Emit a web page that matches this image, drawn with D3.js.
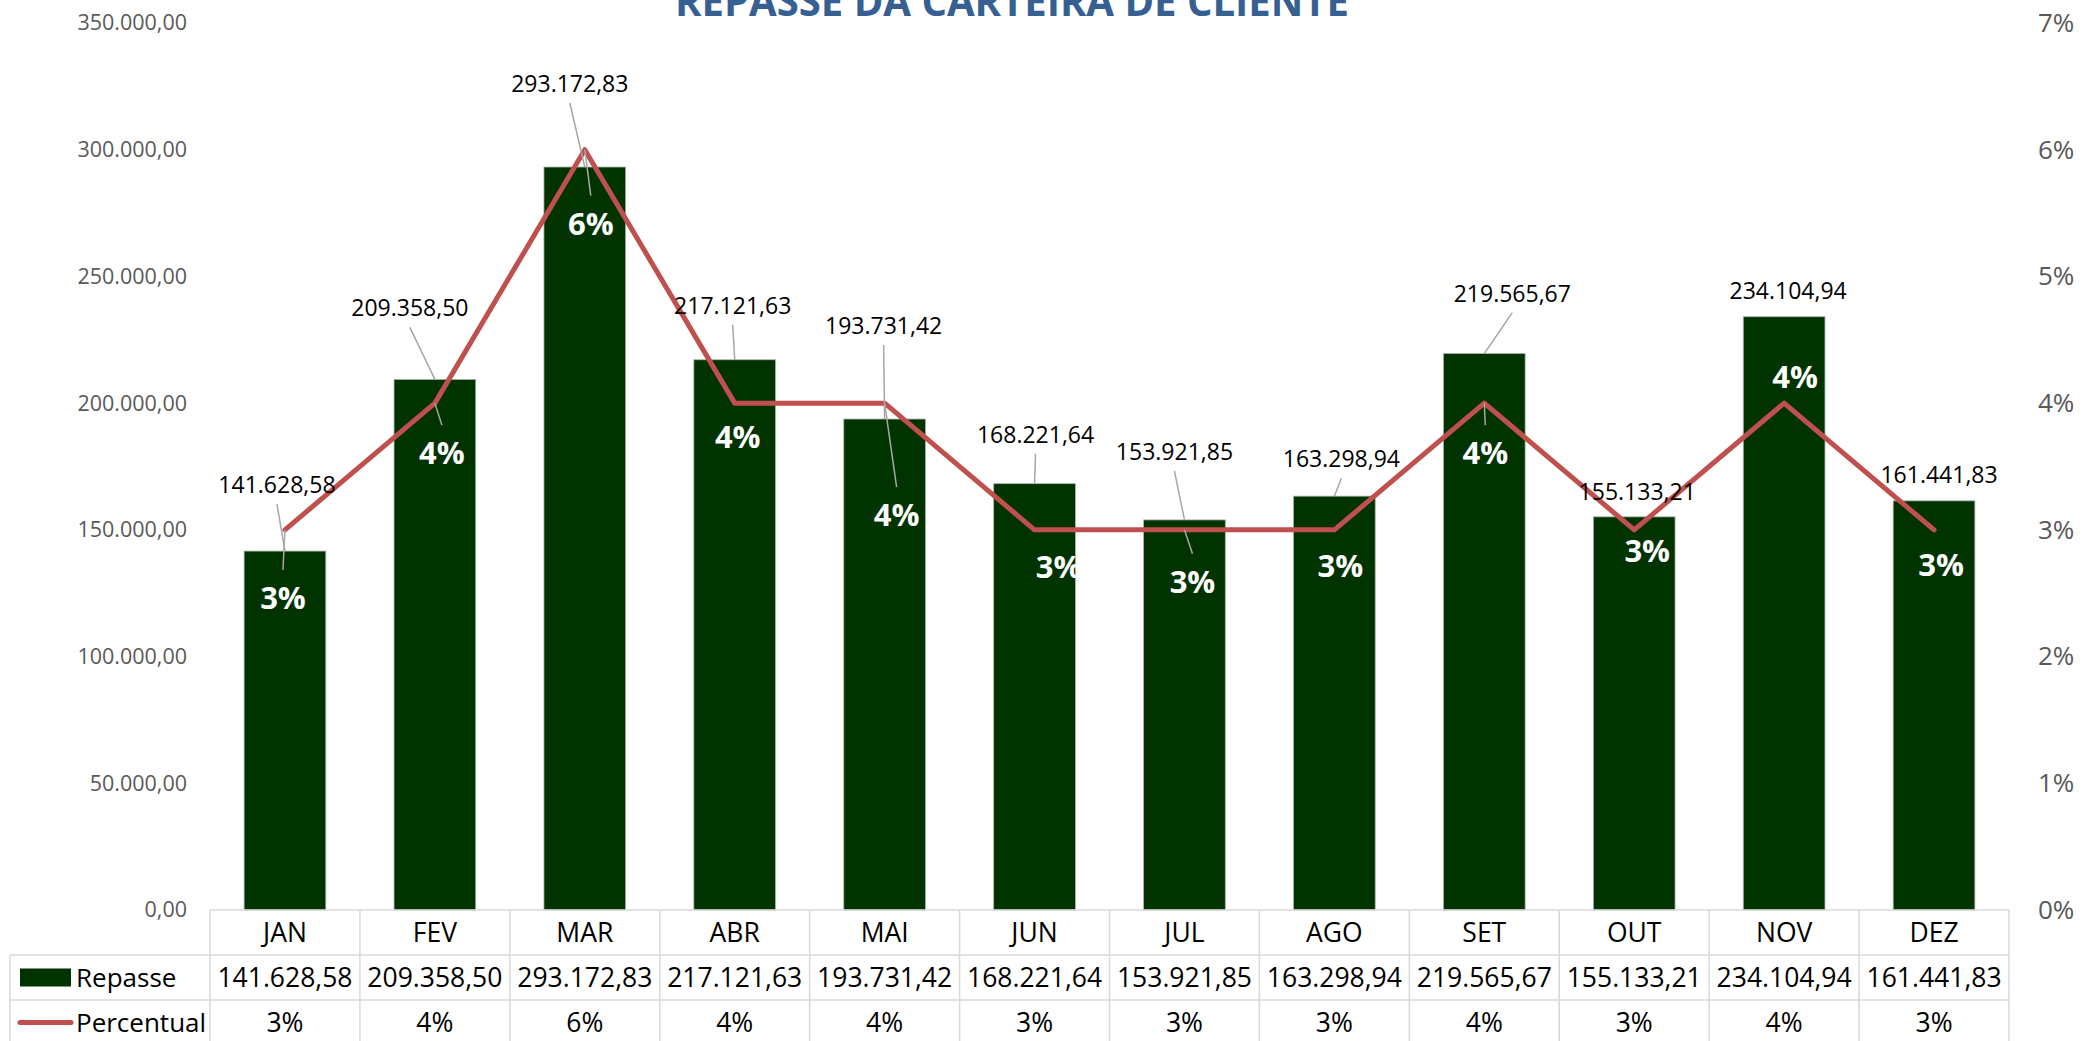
<!DOCTYPE html>
<html>
<head>
<meta charset="utf-8">
<script src="https://cdnjs.cloudflare.com/ajax/libs/d3/7.8.5/d3.min.js"></script>
<style>
  html, body { margin: 0; padding: 0; background: #fff; }
  svg { display: block; font-family: 'Open Sans', sans-serif; }
</style>
</head>
<body>
<script>
const width = 2083;
const height = 1041;

// data
const months = ['JAN', 'FEV', 'MAR', 'ABR', 'MAI', 'JUN', 'JUL', 'AGO', 'SET', 'OUT', 'NOV', 'DEZ'];
const repasse = [141628.58, 209358.50, 293172.83, 217121.63, 193731.42, 168221.64,
                 153921.85, 163298.94, 219565.67, 155133.21, 234104.94, 161441.83];
const percentual = [3, 4, 6, 4, 4, 3, 3, 3, 4, 3, 4, 3];
const leftTicks = [0, 50000, 100000, 150000, 200000, 250000, 300000, 350000];
const rightTicks = [0, 1, 2, 3, 4, 5, 6, 7];

// where Excel dragged the labels (pixel offsets from their anchor)
const valueLabelOffsets = [[-8, -66], [-25, -71], [-15, -83], [-2, -54], [-1, -93], [1, -49],
                           [-10, -68], [7, -37], [28, -60], [3, -25], [4, -26], [5, -26]];
const pctLabelOffsets = [[-2, 68], [7, 50], [6, 74], [3, 34], [12, 112], [24, 37],
                         [8, 52], [6, 36], [1, 50], [13, 21], [11, -26], [7, 35]];

const ptBR = d3.formatLocale({ decimal: ',', thousands: '.', grouping: [3], currency: ['R$', ''] });
const fmt = ptBR.format(',.2f');

const svg = d3.select('body')
              .append('svg')
              .attr('width', width)
              .attr('height', height);

const x = d3.scaleBand().domain(months).range([210, 2009]).padding(0);
const y = d3.scaleLinear().domain([0, 350000]).range([910, 23]);
const y2 = d3.scaleLinear().domain([0, 7]).range([910, 23]);
const barW = x.bandwidth() * 0.545;
const cx = m => x(m) + x.bandwidth() / 2;

// title (cut off at the top like the original)
svg.append('text')
   .attr('x', 1012)
   .attr('y', 16)
   .attr('text-anchor', 'middle')
   .attr('font-size', 42)
   .attr('font-weight', 700)
   .attr('fill', '#376092')
   .attr('textLength', 674)
   .attr('lengthAdjust', 'spacingAndGlyphs')
   .text('REPASSE DA CARTEIRA DE CLIENTE');

// axes
const leftAxis = svg.append('g')
   .attr('transform', 'translate(187,0)')
   .call(d3.axisLeft(y).tickValues(leftTicks).tickSize(0).tickPadding(0).tickFormat(fmt));
leftAxis.select('.domain').remove();
leftAxis.attr('font-family', null).attr('font-size', null);
leftAxis.selectAll('text').attr('font-size', 21.5).attr('fill', '#595959');

const rightAxis = svg.append('g')
   .attr('transform', 'translate(2038,0)')
   .call(d3.axisRight(y2).tickValues(rightTicks).tickSize(0).tickPadding(0).tickFormat(d => d + '%'));
rightAxis.select('.domain').remove();
rightAxis.attr('font-family', null).attr('font-size', null);
rightAxis.selectAll('text').attr('font-size', 26).attr('fill', '#595959');

// bars
svg.append('g')
   .selectAll('rect')
   .data(months)
   .join('rect')
   .attr('x', m => cx(m) - barW / 2)
   .attr('y', (m, i) => y(repasse[i]))
   .attr('width', barW)
   .attr('height', (m, i) => y(0) - y(repasse[i]))
   .attr('fill', '#003300')
   .attr('stroke', '#a9b5a9')
   .attr('stroke-width', 0.8);

// line
const line = d3.line()
               .x(d => cx(d.m))
               .y(d => y2(d.p));
const linePts = months.map((m, i) => ({ m: m, p: percentual[i] }));
svg.append('path')
   .datum(linePts)
   .attr('d', line)
   .attr('fill', 'none')
   .attr('stroke', '#C0504D')
   .attr('stroke-width', 5)
   .attr('stroke-linejoin', 'round')
   .attr('stroke-linecap', 'round');

// leader lines
const leaders = svg.append('g').attr('stroke', '#a6a6a6').attr('stroke-width', 1.5);
months.forEach((m, i) => {
  const bx = cx(m), by = y(repasse[i]);
  const [vdx, vdy] = valueLabelOffsets[i];
  if (-vdy > 30) {
    leaders.append('line')
           .attr('x1', bx + vdx).attr('y1', by + vdy + 19)
           .attr('x2', bx).attr('y2', by);
  }
  const py = y2(percentual[i]);
  const [pdx, pdy] = pctLabelOffsets[i];
  if (pdy > 45) {
    leaders.append('line')
           .attr('x1', bx).attr('y1', py)
           .attr('x2', bx + pdx).attr('y2', py + pdy - 28);
  }
});

// value labels
svg.append('g')
   .selectAll('text')
   .data(months)
   .join('text')
   .attr('x', (m, i) => cx(m) + valueLabelOffsets[i][0])
   .attr('y', (m, i) => y(repasse[i]) + valueLabelOffsets[i][1])
   .attr('dy', '0.35em')
   .attr('text-anchor', 'middle')
   .attr('font-size', 23)
   .attr('fill', '#000')
   .text((m, i) => fmt(repasse[i]));

// percent labels
svg.append('g')
   .selectAll('text')
   .data(months)
   .join('text')
   .attr('x', (m, i) => cx(m) + pctLabelOffsets[i][0])
   .attr('y', (m, i) => y2(percentual[i]) + pctLabelOffsets[i][1])
   .attr('dy', '0.36em')
   .attr('text-anchor', 'middle')
   .attr('font-size', 31)
   .attr('font-weight', 700)
   .attr('fill', '#fff')
   .text((m, i) => percentual[i] + '%');

// data table
const rowTop = 910, rowH = 45;
const x0 = x.range()[0], x1 = x.range()[1];
const grid = svg.append('g').attr('stroke', '#d9d9d9').attr('stroke-width', 1.5);
grid.append('line').attr('x1', x0).attr('x2', x1).attr('y1', rowTop).attr('y2', rowTop);
[1, 2].forEach(r => {
  grid.append('line').attr('x1', 10).attr('x2', x1)
      .attr('y1', rowTop + r * rowH).attr('y2', rowTop + r * rowH);
});
grid.append('line').attr('x1', 10).attr('x2', 10).attr('y1', rowTop + rowH).attr('y2', height);
months.concat(['end']).forEach((m, i) => {
  const xx = x0 + i * x.bandwidth();
  grid.append('line').attr('x1', xx).attr('x2', xx).attr('y1', rowTop).attr('y2', height);
});

const table = svg.append('g').attr('font-size', 26.5).attr('fill', '#000').attr('text-anchor', 'middle');
table.selectAll('.mon')
     .data(months)
     .join('text')
     .attr('class', 'mon')
     .attr('x', cx)
     .attr('y', rowTop + rowH / 2)
     .attr('dy', '0.36em')
     .text(m => m);
table.selectAll('.rep')
     .data(months)
     .join('text')
     .attr('class', 'rep')
     .attr('x', cx)
     .attr('y', rowTop + rowH * 1.5)
     .attr('dy', '0.36em')
     .text((m, i) => fmt(repasse[i]));
table.selectAll('.pct')
     .data(months)
     .join('text')
     .attr('class', 'pct')
     .attr('x', cx)
     .attr('y', rowTop + rowH * 2.5)
     .attr('dy', '0.36em')
     .text((m, i) => percentual[i] + '%');

// legend keys inside the table
svg.append('rect')
   .attr('x', 20).attr('y', rowTop + rowH * 1.5 - 9)
   .attr('width', 51).attr('height', 18)
   .attr('fill', '#003300');
svg.append('line')
   .attr('x1', 20).attr('x2', 71)
   .attr('y1', rowTop + rowH * 2.5).attr('y2', rowTop + rowH * 2.5)
   .attr('stroke', '#C0504D').attr('stroke-width', 5).attr('stroke-linecap', 'round');
svg.append('text')
   .attr('x', 76).attr('y', rowTop + rowH * 1.5).attr('dy', '0.36em')
   .attr('font-size', 26).text('Repasse');
svg.append('text')
   .attr('x', 76).attr('y', rowTop + rowH * 2.5).attr('dy', '0.36em')
   .attr('font-size', 26).text('Percentual');
</script>
</body>
</html>
